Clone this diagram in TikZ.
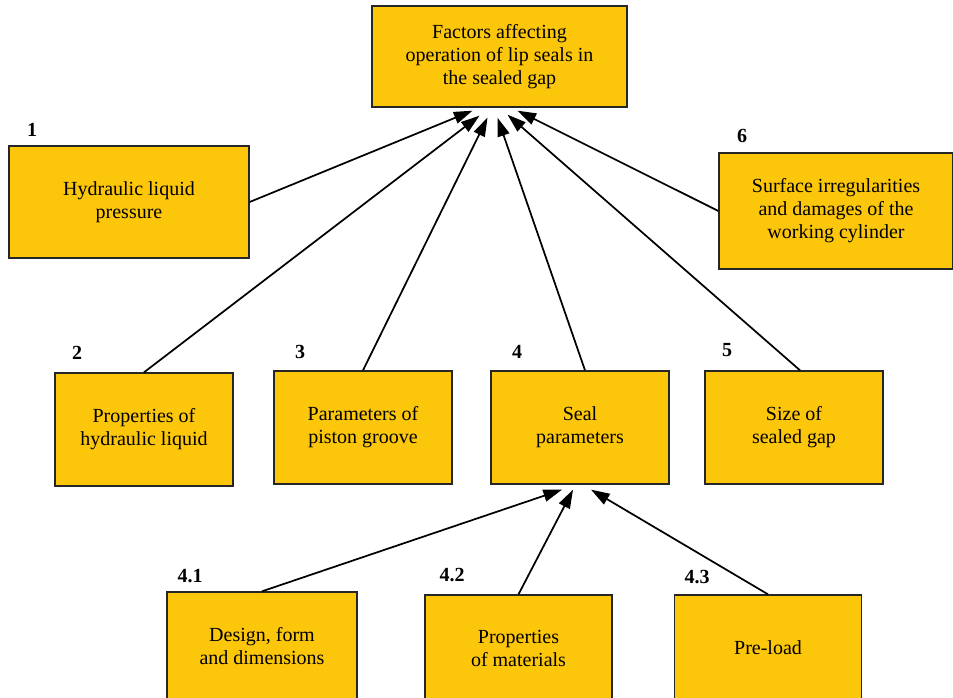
\documentclass[tikz,border=0pt]{standalone}
\usepackage{fontspec}
\setmainfont{Liberation Serif}
\usetikzlibrary{arrows.meta}
\usetikzlibrary{calc}
\definecolor{sealyellow}{RGB}{252,198,10}
\tikzset{
  factor/.style={draw=black!85, line width=1pt, fill=sealyellow, align=center, inner sep=0pt, font=\fontsize{15}{17.25}\selectfont},
  num/.style={font=\fontsize{15}{17}\selectfont\bfseries},
  arr/.style={black, line width=1.3pt, -{Triangle[length=14pt, width=9pt]}}
}

\begin{document}
\begin{tikzpicture}[x=0.75pt, y=-0.75pt]
    \useasboundingbox (0,0) rectangle (953,698);
    \clip (0,0) rectangle (953,698);
    % main box
    \node[factor, minimum width=191.25pt, minimum height=75.75pt] (top) at (499.5,56.5) {Factors affecting\\operation of lip seals in\\the sealed gap};
    % first level
    \node[factor, minimum width=180pt, minimum height=84pt] (f1) at (129,202) {Hydraulic liquid\\pressure};
    \node[factor, minimum width=175.5pt, minimum height=87pt] (f6) at (836,211) {Surface irregularities\\and damages of the\\working cylinder};
    \node[factor, minimum width=133.5pt, minimum height=84.75pt] (f2) at (144,429.5) {Properties of\\hydraulic liquid};
    \node[factor, minimum width=133.5pt, minimum height=84.75pt] (f3) at (363,427.5) {Parameters of\\piston groove};
    \node[factor, minimum width=133.5pt, minimum height=84.75pt] (f4) at (580,427.5) {Seal\\parameters};
    \node[factor, minimum width=133.5pt, minimum height=84.75pt] (f5) at (794,427.5) {Size of\\sealed gap};
    % second level (cut by the bottom edge)
    \node[factor, minimum width=142.5pt, minimum height=81pt] (f41) at (262,646) {Design, form\\and dimensions};
    \node[factor, minimum width=140.25pt, minimum height=79.5pt] (f42) at (518.5,648) {Properties\\of materials};
    \node[factor, minimum width=140.25pt, minimum height=79.5pt] (f43) at (768,648) {Pre-load};
    % numbers
    \node[num] (n1) at (32,130) {1};
    \node[num] (n2) at (77,353) {2};
    \node[num] (n3) at (300,352) {3};
    \node[num] (n4) at (517,352) {4};
    \node[num] (n5) at (727,350) {5};
    \node[num] (n6) at (742,136) {6};
    \node[num] (n41) at (190,576) {4.1};
    \node[num] (n42) at (452,575) {4.2};
    \node[num] (n43) at (697,577) {4.3};
    % arrow tips under the boxes
    \coordinate (t1) at ($(top.south)+(-27,3)$);
    \coordinate (t2) at ($(top.south)+(-20,8)$);
    \coordinate (t3) at ($(top.south)+(-12,10)$);
    \coordinate (t4) at ($(top.south)+(-2,10)$);
    \coordinate (t5) at ($(top.south)+(8,7)$);
    \coordinate (t6) at ($(top.south)+(18,3)$);
    \coordinate (s1) at ($(f4.south)+(-18,5)$);
    \coordinate (s2) at ($(f4.south)+(-7,5)$);
    \coordinate (s3) at ($(f4.south)+(11,5)$);
    \draw[arr] (f1.east) -- (t1);
    \draw[arr] (f2.north) -- (t2);
    \draw[arr] (f3.north) -- (t3);
    \draw[arr] ($(f4.north)+(5,0)$) -- (t4);
    \draw[arr] ($(f5.north)+(6,0)$) -- (t5);
    \draw[arr] (f6.west) -- (t6);
    \draw[arr] (f41.north) -- (s1);
    \draw[arr] (f42.north) -- (s2);
    \draw[arr] (f43.north) -- (s3);
\end{tikzpicture}
\end{document}
